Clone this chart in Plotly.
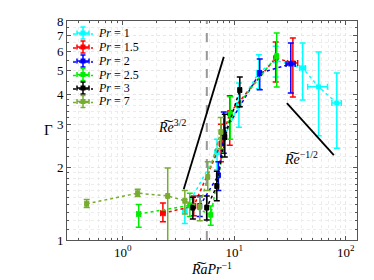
import numpy as np
import plotly.graph_objects as go

# ---------------- data ----------------
pr_labels = ["1", "1.5", "2", "2.5", "3", "7"]
colors = ["#00FFFF", "#FF0000", "#0000FF", "#00EE00", "#000000", "#77AC30"]

x_pr1 = [3.6, 7.0, 11.0, 16.6, 23.5, 41, 57, 83]
y_pr1 = [1.32, 2.3, 3.6, 4.9, 5.5, 5.12, 4.28, 3.67]
ylo_pr1 = [1.17, 1.95, 2.92, 4.2, 4.7, 3.78, 2.69, 2.39]
yhi_pr1 = [1.47, 2.6, 4.44, 5.8, 6.3, 6.49, 5.96, 4.88]
xe_pr1 = [0.15, 0.3, 0.5, 0.6, 0.8, 2.5, 11.5, 8]

x_pr15 = [2.29, 4.33, 7.6, 9.1, 23.5, 33.5]
y_pr15 = [1.29, 1.38, 2.5, 3.34, 5.63, 5.37]
ylo_pr15 = [1.19, 1.26, 2.1, 2.46, 4.48, 3.89]
yhi_pr15 = [1.42, 1.52, 3.0, 3.93, 6.55, 6.81]
xe_pr15 = [0.1, 0.15, 0.2, 0.3, 0.6, 3.5]

x_pr2 = [4.9, 7.2, 8.05, 16.9, 32.1]
y_pr2 = [1.38, 1.85, 2.76, 4.88, 5.32]
ylo_pr2 = [1.25, 1.6, 2.28, 4.16, 4.04]
yhi_pr2 = [1.52, 2.1, 3.37, 5.58, 6.49]
xe_pr2 = [0.15, 0.2, 0.25, 0.5, 3.0]

x_pr25 = [1.39, 3.99, 6.15, 9.2, 24.0]
y_pr25 = [1.28, 1.39, 1.27, 3.3, 5.74]
ylo_pr25 = [1.13, 1.25, 1.15, 2.6, 4.27]
yhi_pr25 = [1.40, 1.56, 1.38, 3.9, 7.14]
xe_pr25 = [0.05, 0.12, 0.15, 0.25, 0.6]

x_pr3 = [4.25, 5.66, 6.97, 8.22, 11.2]
y_pr3 = [1.36, 1.36, 1.67, 2.66, 4.15]
ylo_pr3 = [1.22, 1.21, 1.45, 2.2, 3.54]
yhi_pr3 = [1.5, 1.52, 1.92, 3.3, 4.7]
xe_pr3 = [0.12, 0.15, 0.2, 0.25, 0.35]

x_pr7 = [0.475, 1.36, 2.53, 3.6, 4.9, 5.78, 7.57]
y_pr7 = [1.41, 1.56, 1.52, 1.45, 1.37, 1.82, 2.79]
ylo_pr7 = [1.36, 1.51, 0.9, 1.28, 1.2, 1.6, 2.38]
yhi_pr7 = [1.47, 1.62, 1.98, 1.6, 1.5, 2.1, 3.2]
xe_pr7 = [0.015, 0.04, 0.07, 0.1, 0.12, 0.15, 0.2]

# scaling guide lines
re32_x = [3.52, 8.05]
re32_y = [1.62, 5.69]
rem12_x = [29.6, 78]
rem12_y = [3.67, 2.24]
crit_x = [5.67, 5.67]
crit_y = [1, 8]

xticks = [1, 10, 100]
xticktext = ["10<sup>0</sup>", "10<sup>1</sup>", "10<sup>2</sup>"]
yticks = [1, 2, 3, 4, 5, 6, 7, 8]
yticktext = ["1", "2", "3", "4", "5", "6", "7", "8"]
yminor = [1.1, 1.2, 1.3, 1.4, 1.5, 1.6, 1.7, 1.8, 1.9,
          2.2, 2.4, 2.6, 2.8, 3.2, 3.4, 3.6, 3.8, 4.5, 5.5, 6.5, 7.5]
xminor = [0.4, 0.5, 0.6, 0.7, 0.8, 0.9, 2, 3, 4, 5, 6, 7, 8, 9,
          20, 30, 40, 50, 60, 70, 80, 90]

series = [
    (x_pr1, y_pr1, ylo_pr1, yhi_pr1, xe_pr1),
    (x_pr15, y_pr15, ylo_pr15, yhi_pr15, xe_pr15),
    (x_pr2, y_pr2, ylo_pr2, yhi_pr2, xe_pr2),
    (x_pr25, y_pr25, ylo_pr25, yhi_pr25, xe_pr25),
    (x_pr3, y_pr3, ylo_pr3, yhi_pr3, xe_pr3),
    (x_pr7, y_pr7, ylo_pr7, yhi_pr7, xe_pr7),
]

FONT = "Liberation Serif"

# page body has an 8px margin: shrink the figure so the plot box lands where intended
W, H = 366, 272
ML, MR, MT, MB = 59, 17, 13, 40
PW, PH = W - ML - MR, H - MT - MB


def px(xpix):   # page pixel -> paper x
    return (xpix - 8 - ML) / PW


def py(ypix):   # page pixel -> paper y
    return (H - MB + 8 - ypix) / PH


fig = go.Figure()

# vertical dashed line
fig.add_trace(go.Scatter(x=crit_x, y=crit_y, mode="lines", showlegend=False,
                         line=dict(color="#999999", width=2, dash="dash"), hoverinfo="skip"))

for (xs, ys, lo, hi, xe), lab, c in zip(series, pr_labels, colors):
    ys_a = np.array(ys); lo_a = np.array(lo); hi_a = np.array(hi)
    fig.add_trace(go.Scatter(
        x=xs, y=ys, mode="lines+markers", name=f"<i>Pr</i> = {lab}", showlegend=False,
        line=dict(color=c, width=1.5, dash="dot"),
        marker=dict(color=c, symbol="square", size=5),
        error_y=dict(type="data", symmetric=False, array=hi_a - ys_a, arrayminus=ys_a - lo_a,
                     color=c, thickness=1.5, width=3),
        error_x=dict(type="data", array=xe, color=c, thickness=1.5, width=3),
    ))

fig.add_trace(go.Scatter(x=re32_x, y=re32_y, mode="lines", showlegend=False,
                         line=dict(color="black", width=1.8), hoverinfo="skip"))
fig.add_trace(go.Scatter(x=rem12_x, y=rem12_y, mode="lines", showlegend=False,
                         line=dict(color="black", width=1.8), hoverinfo="skip"))

# ---- manual legend (compact, MATLAB-like) ----
leg_y = [33, 47, 61, 74.5, 88, 101.5]
for lab, c, yy in zip(pr_labels, colors, leg_y):
    cx = 83
    shp = dict(xref="paper", yref="paper", layer="above")
    fig.add_shape(type="line", x0=px(73), x1=px(93), y0=py(yy + 1), y1=py(yy + 1),
                  line=dict(color=c, width=1.5, dash="dot"), **shp)
    fig.add_shape(type="line", x0=px(cx - 6), x1=px(cx + 6), y0=py(yy), y1=py(yy),
                  line=dict(color=c, width=1.5), **shp)
    fig.add_shape(type="line", x0=px(cx), x1=px(cx), y0=py(yy - 6), y1=py(yy + 6),
                  line=dict(color=c, width=1.5), **shp)
    for dy in (-6, 6):
        fig.add_shape(type="line", x0=px(cx - 2.5), x1=px(cx + 2.5), y0=py(yy + dy), y1=py(yy + dy),
                      line=dict(color=c, width=1.5), **shp)
    for dx in (-6, 6):
        fig.add_shape(type="line", x0=px(cx + dx), x1=px(cx + dx), y0=py(yy - 2.5), y1=py(yy + 2.5),
                      line=dict(color=c, width=1.5), **shp)
    fig.add_shape(type="rect", x0=px(cx - 2.5), x1=px(cx + 2.5), y0=py(yy - 2.5), y1=py(yy + 2.5),
                  fillcolor=c, line=dict(color=c, width=0), **shp)
    fig.add_annotation(x=px(96), y=py(yy), xref="paper", yref="paper", xanchor="left",
                       yanchor="middle", showarrow=False, text=f"<i>Pr</i> = {lab}",
                       font=dict(family=FONT, size=12, color="black"))

fig.add_annotation(x=np.log10(2.75), y=np.log10(2.95), xref="x", yref="y", showarrow=False,
                   text="<i>R͠e</i><sup>3/2</sup>", font=dict(family=FONT, size=14, color="black"))
fig.add_annotation(x=np.log10(40), y=np.log10(2.18), xref="x", yref="y", showarrow=False,
                   text="<i>R͠e</i><sup>−1/2</sup>", font=dict(family=FONT, size=14, color="black"))
fig.add_annotation(x=px(42), y=py(130), xref="paper", yref="paper", showarrow=False,
                   text="Γ", font=dict(family=FONT, size=15, color="black"))

axis_common = dict(showline=True, linecolor="#555555", linewidth=1, mirror="ticks",
                   ticks="inside", ticklen=4, tickcolor="#555555", automargin=False,
                   gridcolor="#e6e6e6", gridwidth=1, griddash="dot", zeroline=False,
                   tickfont=dict(family=FONT, size=13, color="black"))

fig.update_xaxes(type="log", range=[-0.5, 2.1], tickvals=xticks, ticktext=xticktext,
                 minor=dict(tickvals=xminor, ticks="inside", ticklen=2, tickcolor="#555555",
                            showgrid=True, gridcolor="#ececec", griddash="dot"),
                 title=dict(text="<i>R͠aPr</i><sup>−1</sup>",
                            font=dict(family=FONT, size=14, color="black"), standoff=2),
                 **axis_common)
fig.update_yaxes(type="log", range=[0, np.log10(8)], tickvals=yticks, ticktext=yticktext,
                 minor=dict(tickvals=yminor, ticks="inside", ticklen=2, tickcolor="#555555",
                            showgrid=True, gridcolor="#ececec", griddash="dot"),
                 **axis_common)

fig.update_layout(
    width=W, height=H,
    margin=dict(l=ML, r=MR, t=MT, b=MB),
    paper_bgcolor="white", plot_bgcolor="white",
    showlegend=False,
)

fig.write_html("out.html")
